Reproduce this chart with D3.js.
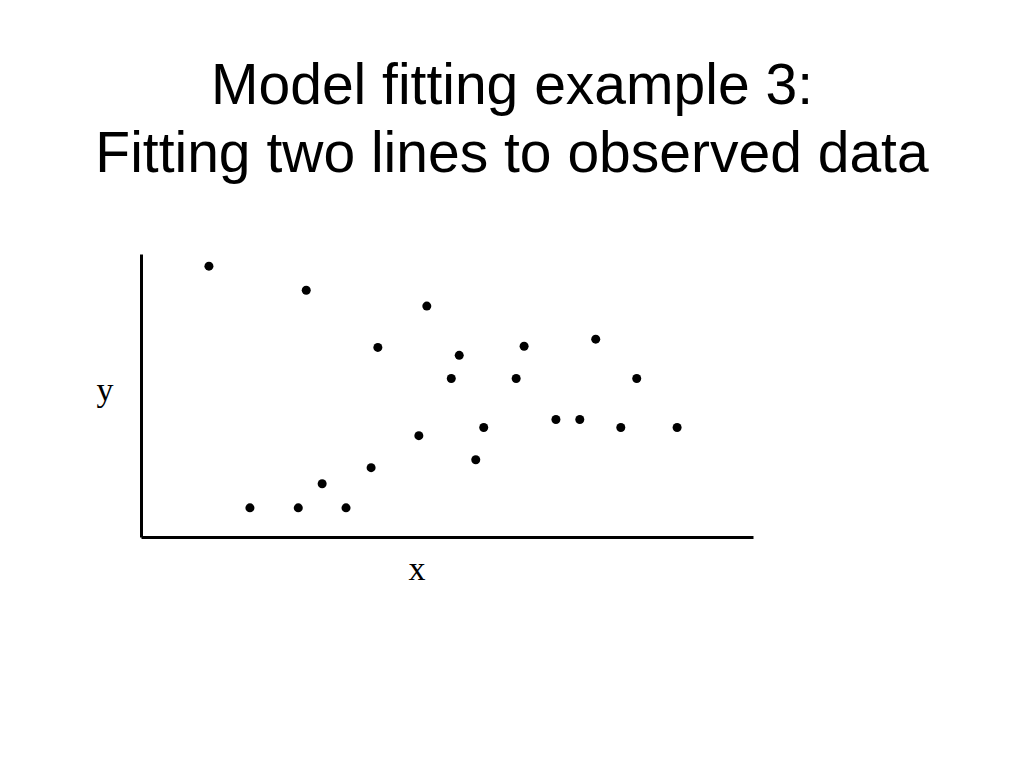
<!DOCTYPE html>
<html>
<head>
<meta charset="utf-8">
<script src="https://cdn.jsdelivr.net/npm/d3@7"></script>
<style>
  html, body { margin: 0; padding: 0; background: #fff; }
  svg { display: block; }
</style>
</head>
<body>
<svg id="chart" width="1024" height="768"></svg>
<script>
// Data (arbitrary units)
const titleLines = ["Model fitting example 3:", "Fitting two lines to observed data"];
const xLabel = "x";
const yLabel = "y";
const xValues = [1.11, 2.70, 4.67, 3.87, 5.20, 6.26, 7.43, 5.07, 6.13, 8.10, 6.78,
                 7.17, 5.60, 7.84, 8.76, 4.54, 5.47, 3.76, 2.96, 1.78, 2.57, 3.35];
const yValues = [9.57, 8.72, 8.16, 6.70, 6.42, 6.74, 6.99, 5.60, 5.60, 5.60, 4.15,
                 4.15, 3.87, 3.87, 3.87, 3.58, 2.73, 2.45, 1.88, 1.03, 1.03, 1.03];
const xDomain = [0, 10];
const yDomain = [0, 10];

const svg = d3.select("#chart");
const x = d3.scaleLinear().domain(xDomain).range([141, 753]);
const y = d3.scaleLinear().domain(yDomain).range([537, 254]);

// Title
svg.append("g").selectAll("text")
  .data(titleLines)
  .join("text")
  .attr("x", 512)
  .attr("y", (d, i) => 104 + i * 68)
  .attr("text-anchor", "middle")
  .attr("font-family", "'Liberation Sans', Arial, Helvetica, sans-serif")
  .attr("font-size", 57)
  .attr("fill", "#000")
  .text(d => d);

// Axes (no ticks)
const gx = svg.append("g")
  .attr("transform", `translate(0,${y(yDomain[0])})`)
  .call(d3.axisBottom(x).tickValues([]).tickSizeOuter(0));
const gy = svg.append("g")
  .attr("transform", `translate(${x(xDomain[0])},0)`)
  .call(d3.axisLeft(y).tickValues([]).tickSizeOuter(0));
[gx, gy].forEach(g => g.select(".domain").attr("stroke", "#000").attr("stroke-width", 3));

// Points
const pts = xValues.map((v, i) => ({ x: v, y: yValues[i] }));
svg.append("g").selectAll("circle")
  .data(pts)
  .join("circle")
  .attr("cx", d => x(d.x))
  .attr("cy", d => y(d.y))
  .attr("r", 4.5)
  .attr("fill", "#000");

// Axis labels
svg.append("text")
  .attr("x", 417).attr("y", 580)
  .attr("text-anchor", "middle")
  .attr("font-family", "'Liberation Serif', 'Times New Roman', serif")
  .attr("font-size", 34)
  .attr("fill", "#000")
  .text(xLabel);
svg.append("text")
  .attr("x", 105).attr("y", 401)
  .attr("text-anchor", "middle")
  .attr("font-family", "'Liberation Serif', 'Times New Roman', serif")
  .attr("font-size", 34)
  .attr("fill", "#000")
  .text(yLabel);
</script>
</body>
</html>
